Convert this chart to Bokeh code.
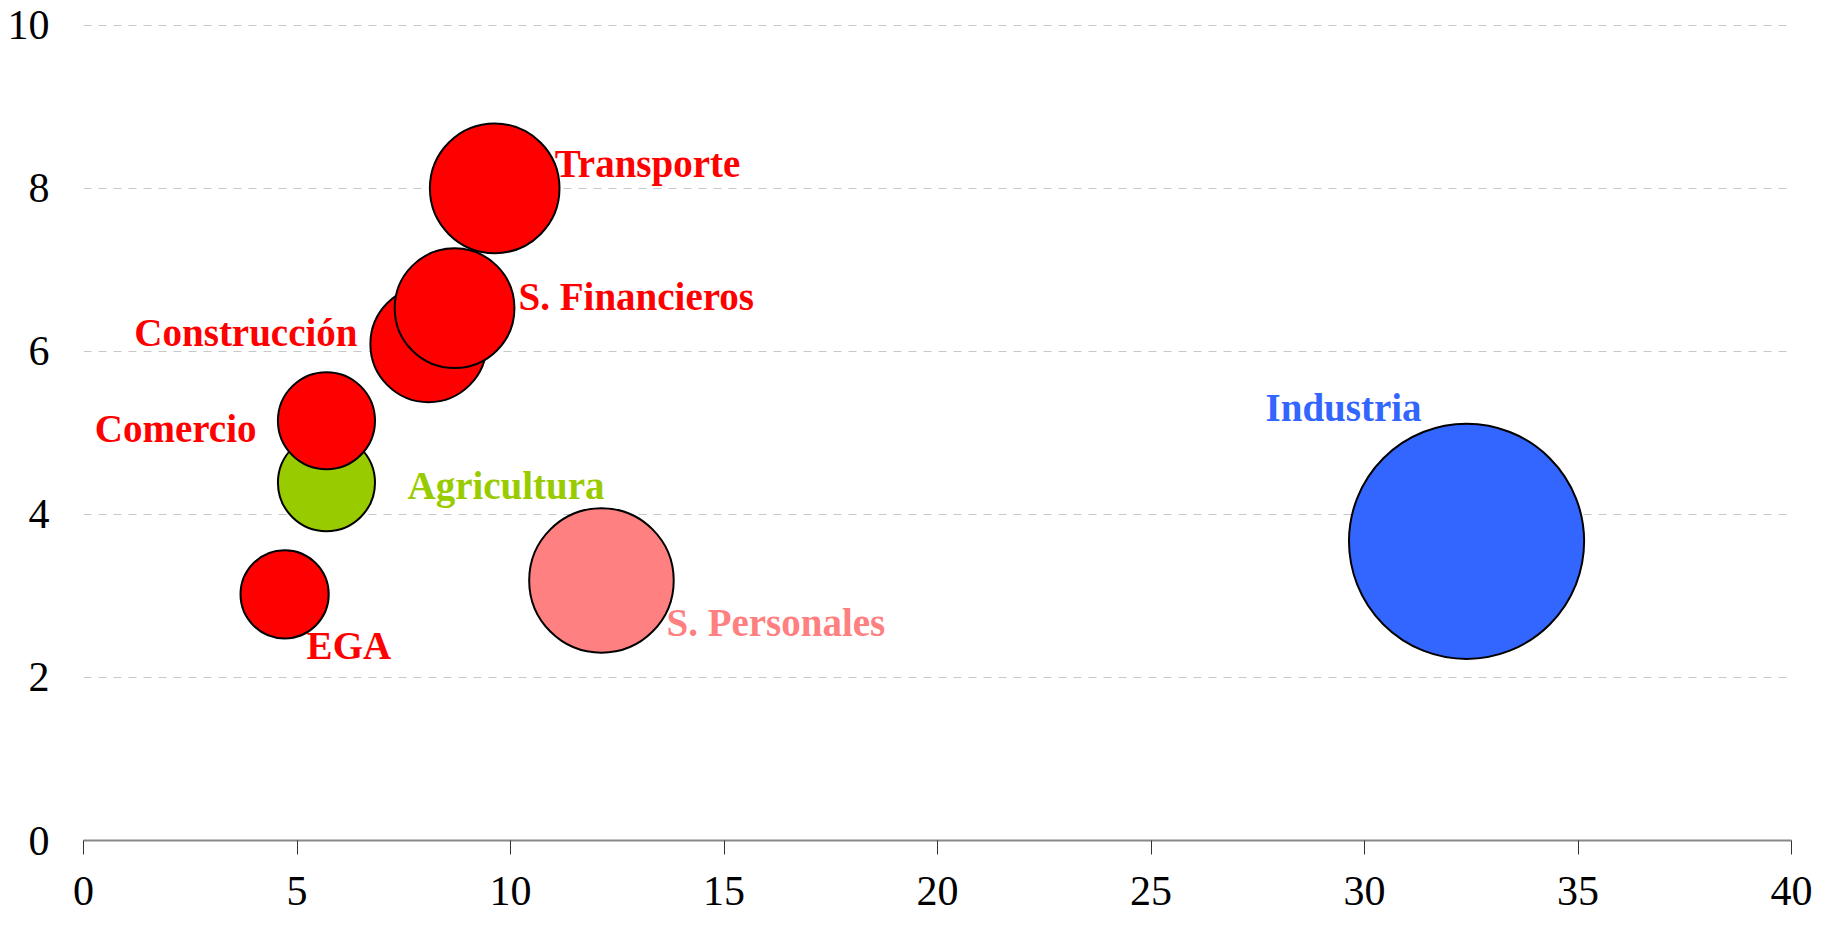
from bokeh.plotting import figure
from bokeh.models import ColumnDataSource, Range1d, FixedTicker
from bokeh.core.properties import value
from bokeh.embed import file_html
from bokeh.resources import INLINE
import numpy as np

# ---- data ----
sectors = ["Agricultura", "Comercio", "EGA", "Construcción", "S. Financieros",
           "Transporte", "S. Personales", "Industria"]
x_vals = [5.69, 5.69, 4.71, 8.08, 8.69, 9.63, 12.13, 32.39]
y_vals = [4.39, 5.15, 3.02, 6.09, 6.53, 8.00, 3.19, 3.67]
weights = [2.3, 2.3, 1.9, 3.3, 3.5, 4.1, 5.1, 13.5]
x_ticks = [0, 5, 10, 15, 20, 25, 30, 35, 40]
y_ticks = [0, 2, 4, 6, 8, 10]

# ---- styles ----
colors = {"Agricultura": "#99CC00", "Comercio": "#FF0000", "EGA": "#FF0000",
          "Construcción": "#FF0000", "S. Financieros": "#FF0000",
          "Transporte": "#FF0000", "S. Personales": "#FF8080",
          "Industria": "#3366FF"}
# label offsets from bubble centre in screen pixels (dx, dy, align)
label_pos = {"Agricultura": (81, 3, "left"), "Comercio": (-70, 8, "right"),
             "EGA": (22, 51, "left"), "Construcción": (-71, -12, "right"),
             "S. Financieros": (64, -12, "left"), "Transporte": (60, -25, "left"),
             "S. Personales": (65, 42, "left"), "Industria": (-201, -134, "left")}
R_SCALE = 32.0

src = ColumnDataSource(dict(
    x=x_vals, y=y_vals, name=sectors,
    size=[2 * R_SCALE * np.sqrt(w) for w in weights],
    color=[colors[s] for s in sectors],
    dx=[label_pos[s][0] for s in sectors],
    dy=[label_pos[s][1] for s in sectors],
    align=[label_pos[s][2] for s in sectors],
))

p = figure(width=1813, height=913, x_range=Range1d(0, 40), y_range=Range1d(0, 10.01),
           output_backend="svg", toolbar_location=None,
           min_border_left=83, min_border_right=22, min_border_top=24,
           min_border_bottom=73)
p.outline_line_color = None
p.background_fill_color = "white"

p.xgrid.grid_line_color = None
p.ygrid.grid_line_color = "#C8C8C8"
p.ygrid.grid_line_dash = "8 7"
p.ygrid.grid_line_width = 1

p.xaxis.ticker = FixedTicker(ticks=x_ticks)
p.yaxis.ticker = FixedTicker(ticks=y_ticks)

for ax in (p.xaxis, p.yaxis):
    ax.major_label_text_font = "Liberation Serif"
    ax.major_label_text_font_size = "42px"
    ax.major_label_text_color = "black"
    ax.minor_tick_line_color = None

p.xaxis.axis_line_color = "#888888"
p.xaxis.axis_line_width = 2
p.xaxis.major_tick_line_color = "#333333"
p.xaxis.major_tick_line_width = 1
p.xaxis.major_tick_in = 0
p.xaxis.major_tick_out = 14
p.xaxis.major_label_standoff = 22

p.yaxis.axis_line_color = None
p.yaxis.major_tick_line_color = None
p.yaxis.major_label_standoff = 28

p.scatter("x", "y", size="size", marker="circle", fill_color="color",
          line_color="black", line_width=2, source=src)

p.text("x", "y", text="name", x_offset="dx", y_offset="dy", text_align="align",
       text_baseline="alphabetic", text_color="color",
       text_font=value("Liberation Serif"), text_font_style="bold",
       text_font_size="39px", source=src)

open("out.html", "w").write(file_html(p, INLINE))
